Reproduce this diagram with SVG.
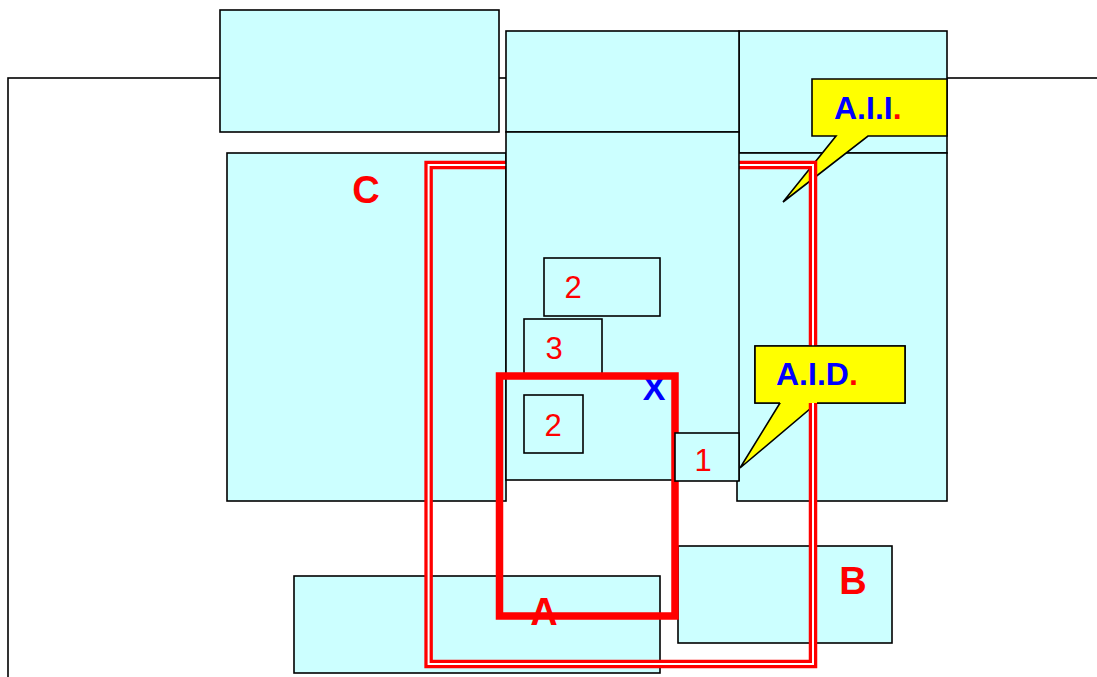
<svg xmlns="http://www.w3.org/2000/svg" width="1097" height="677" viewBox="0 0 1097 677">
<style>
.box{fill:#CCFFFF;stroke:#000;stroke-width:1.6}
.call{fill:#FFFF00;stroke:#000;stroke-width:1.6;stroke-linejoin:miter}
.lbl{font-family:"Liberation Sans",Arial,sans-serif;font-weight:bold;font-size:38px;fill:#FF0000;text-anchor:middle}
.num{font-family:"Liberation Sans",Arial,sans-serif;font-size:31px;fill:#FF0000;text-anchor:middle}
.ctext{font-family:"Liberation Sans",Arial,sans-serif;font-weight:bold;font-size:32px;fill:#0000FF}
</style>
<rect width="1097" height="677" fill="#FFFFFF"/>
<g id="frame"><rect x="8" y="78" width="1100" height="640" fill="none" stroke="#000" stroke-width="1.6"/></g>
<g id="box-topleft"><rect class="box" x="220" y="10" width="279" height="122"/></g>
<g id="box-C"><rect class="box" x="227" y="153" width="279" height="348"/><text class="lbl" x="366" y="203">C</text></g>
<g id="box-right-top"><rect class="box" x="739" y="31" width="208" height="122"/></g>
<g id="box-right-low"><rect class="box" x="737" y="153" width="210" height="348"/></g>
<g id="box-bottom"><rect class="box" x="294" y="576" width="366" height="97"/></g>
<g id="box-B"><rect class="box" x="678" y="546" width="214" height="97"/><text class="lbl" x="853" y="594">B</text></g>
<g id="callout-AII">
<path class="call" d="M812,79 H947 V136 H868 L783,202 L836,136 H812 Z"/>
<text class="ctext" x="834" y="119">A.I.I<tspan fill="#FF0000">.</tspan></text>
</g>
<g id="callout-AID-tail">
<path class="call" d="M755,346 H905 V403 H817 L740,468 L780,403 H755 Z"/>
</g>
<g id="connectors">
<g id="double-frame">
<rect x="428.6" y="165" width="384.4" height="499" fill="none" stroke="#FF0000" stroke-width="8.5"/>
<rect x="428.6" y="165" width="384.4" height="499" fill="none" stroke="#FFFFFF" stroke-width="2"/>
</g>
</g>
<g id="callout-AID">
<rect x="755" y="346" width="150" height="57" fill="#FFFF00"/>
<path d="M780,403 H755 V346 H905 V403 H817" fill="none" stroke="#000" stroke-width="1.6"/>
<text class="ctext" x="776" y="385">A.I.D<tspan fill="#FF0000">.</tspan></text>
</g>
<g id="box-center-top"><rect class="box" x="506" y="31" width="233" height="101"/></g>
<g id="box-center-low"><rect class="box" x="506" y="132" width="233" height="348"/></g>
<g id="box-2a"><rect class="box" x="544" y="258" width="116" height="58"/><text class="num" x="573" y="298">2</text></g>
<g id="box-3"><rect class="box" x="524" y="319" width="78" height="56"/><text class="num" x="554" y="359">3</text></g>
<g id="box-2b"><rect class="box" x="524" y="395" width="59" height="58"/><text class="num" x="553" y="436">2</text></g>
<g id="label-X"><text class="lbl" x="654" y="400" style="fill:#0000FF;font-size:34px">X</text></g>
<g id="label-A"><text class="lbl" x="544" y="625">A</text></g>
<g id="rect-A"><rect x="499.5" y="376" width="175.5" height="240" fill="none" stroke="#FF0000" stroke-width="7.5"/></g>
<g id="box-1"><rect class="box" x="675" y="433" width="64" height="48"/><text class="num" x="703" y="471">1</text></g>
</svg>
